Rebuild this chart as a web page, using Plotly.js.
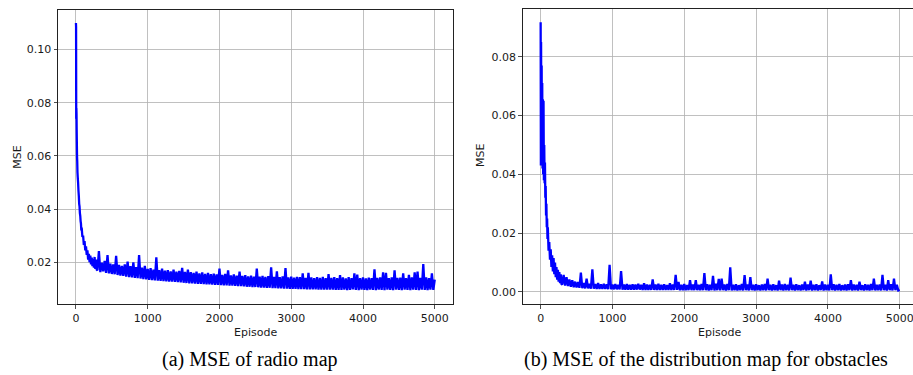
<!DOCTYPE html>
<html>
<head>
<meta charset="utf-8">
<script src="https://cdn.plot.ly/plotly-3.0.1.min.js"></script>
<style>html,body{margin:0;padding:0;background:#fff;}#chart{width:913px;height:375px;}</style>
</head>
<body>
<div id="chart"></div>
<script>
// ---------- (a) radio map : early episodes ----------
const radioEarlyEpisodes = [0,2,4,6,8,10,12,15,18,21,25,30,35,40,45,50,55,60,65,70,75,80,90,100,110,120,130,140,150,160,170,180,190,200,210,220,230,240,250,260,270,280,290];
const radioEarlyMSE = [0.1100,0.1085,0.0740,0.0780,0.0760,0.0700,0.0660,0.0600,0.0580,0.0540,0.0520,0.0500,0.0470,0.0450,0.0420,0.0410,0.0385,0.0375,0.0355,0.0345,0.0320,0.0330,0.0295,0.0300,0.0265,0.0280,0.0245,0.0260,0.0228,0.0245,0.0210,0.0232,0.0200,0.0225,0.0192,0.0218,0.0185,0.0212,0.0180,0.0220,0.0175,0.0210,0.0172];

// ---------- (a) radio map : episodes 300..5000, one reading every 20 episodes ----------
const mainStartEpisode = 300;
const mainStepEpisodes = 20;
const radioMainMSE = [
0.0170,0.0242,0.0163,0.0198,0.0166,0.0205,0.0160,0.0227,0.0158,0.0195,
0.0156,0.0192,0.0155,0.0224,0.0152,0.0190,0.0150,0.0186,0.0149,0.0192,
0.0146,0.0202,0.0144,0.0185,0.0143,0.0200,0.0141,0.0182,0.0140,0.0227,
0.0139,0.0180,0.0137,0.0186,0.0136,0.0175,0.0134,0.0178,0.0133,0.0172,
0.0132,0.0219,0.0131,0.0170,0.0130,0.0176,0.0129,0.0168,0.0128,0.0170,
0.0127,0.0166,0.0127,0.0172,0.0126,0.0165,0.0125,0.0168,0.0124,0.0179,
0.0123,0.0164,0.0122,0.0172,0.0121,0.0163,0.0121,0.0160,0.0120,0.0165,
0.0119,0.0158,0.0119,0.0162,0.0118,0.0156,0.0117,0.0160,0.0117,0.0155,
0.0116,0.0157,0.0115,0.0154,0.0115,0.0176,0.0114,0.0152,0.0113,0.0156,
0.0113,0.0170,0.0112,0.0151,0.0112,0.0154,0.0111,0.0150,0.0110,0.0165,
0.0110,0.0149,0.0109,0.0152,0.0108,0.0147,0.0108,0.0150,0.0107,0.0146,
0.0107,0.0176,0.0106,0.0146,0.0105,0.0149,0.0105,0.0145,0.0104,0.0148,
0.0104,0.0181,0.0103,0.0145,0.0103,0.0166,0.0102,0.0144,0.0102,0.0147,
0.0101,0.0178,0.0101,0.0143,0.0100,0.0146,0.0100,0.0142,0.0100,0.0145,
0.0099,0.0144,0.0099,0.0158,0.0099,0.0141,0.0098,0.0160,0.0098,0.0143,
0.0098,0.0140,0.0098,0.0144,0.0097,0.0141,0.0097,0.0145,0.0097,0.0140,
0.0097,0.0155,0.0097,0.0141,0.0097,0.0144,0.0096,0.0140,0.0096,0.0152,
0.0096,0.0143,0.0097,0.0139,0.0095,0.0144,0.0096,0.0140,0.0098,0.0158,
0.0096,0.0154,0.0095,0.0140,0.0097,0.0143,0.0096,0.0139,0.0095,0.0142,
0.0097,0.0140,0.0096,0.0173,0.0095,0.0141,0.0097,0.0143,0.0096,0.0162,
0.0095,0.0160,0.0097,0.0140,0.0096,0.0143,0.0095,0.0170,0.0097,0.0141,
0.0096,0.0142,0.0095,0.0158,0.0097,0.0140,0.0096,0.0153,0.0095,0.0143,
0.0097,0.0162,0.0096,0.0165,0.0095,0.0141,0.0097,0.0193,0.0096,0.0143,
0.0095,0.0140,0.0097,0.0158,0.0096,0.0135
];

// ---------- (b) obstacle map : early episodes ----------
const obstacleEarlyEpisodes = [0,3,6,10,14,18,22,26,30,35,40,45,50,55,60,65,70,75,80,85,90,95,100,110,120,130,140,150,160,170,180,190,200,210,220,230,240,250,260,270,280,290];
const obstacleEarlyMSE = [0.0917,0.0430,0.0850,0.0500,0.0770,0.0450,0.0710,0.0420,0.0655,0.0400,0.0650,0.0380,0.0500,0.0370,0.0440,0.0320,0.0360,0.0260,0.0300,0.0220,0.0250,0.0180,0.0220,0.0140,0.0170,0.0110,0.0145,0.0085,0.0125,0.0070,0.0115,0.0060,0.0100,0.0050,0.0085,0.0042,0.0075,0.0035,0.0068,0.0030,0.0060,0.0027];

// ---------- (b) obstacle map : episodes 300..5000 every 20 ----------
const obstacleMainMSE = [
0.0025,0.0058,0.0022,0.0050,0.0020,0.0042,0.0018,0.0040,0.0016,0.0035,
0.0015,0.0034,0.0014,0.0066,0.0013,0.0030,0.0012,0.0045,0.0012,0.0028,
0.0011,0.0077,0.0011,0.0027,0.0010,0.0030,0.0010,0.0026,0.0010,0.0028,
0.0010,0.0026,0.0009,0.0092,0.0009,0.0025,0.0009,0.0027,0.0009,0.0024,
0.0009,0.0071,0.0008,0.0025,0.0008,0.0027,0.0008,0.0024,0.0008,0.0026,
0.0008,0.0025,0.0008,0.0028,0.0008,0.0024,0.0007,0.0030,0.0007,0.0025,
0.0007,0.0024,0.0007,0.0043,0.0007,0.0025,0.0007,0.0028,0.0007,0.0024,
0.0007,0.0026,0.0007,0.0023,0.0007,0.0030,0.0007,0.0025,0.0007,0.0058,
0.0007,0.0034,0.0006,0.0024,0.0006,0.0027,0.0006,0.0023,0.0006,0.0040,
0.0006,0.0025,0.0006,0.0040,0.0006,0.0024,0.0006,0.0027,0.0006,0.0064,
0.0006,0.0026,0.0005,0.0024,0.0006,0.0055,0.0005,0.0028,0.0006,0.0044,
0.0005,0.0045,0.0006,0.0025,0.0005,0.0027,0.0006,0.0084,0.0005,0.0024,
0.0006,0.0026,0.0005,0.0023,0.0006,0.0027,0.0005,0.0057,0.0006,0.0025,
0.0005,0.0050,0.0006,0.0024,0.0005,0.0026,0.0006,0.0023,0.0005,0.0025,
0.0006,0.0027,0.0005,0.0045,0.0006,0.0024,0.0005,0.0026,0.0006,0.0023,
0.0005,0.0038,0.0006,0.0025,0.0005,0.0027,0.0006,0.0024,0.0005,0.0049,
0.0006,0.0024,0.0005,0.0026,0.0006,0.0023,0.0005,0.0025,0.0006,0.0035,
0.0005,0.0025,0.0006,0.0038,0.0005,0.0024,0.0006,0.0026,0.0005,0.0023,
0.0006,0.0036,0.0005,0.0025,0.0006,0.0024,0.0005,0.0060,0.0006,0.0026,
0.0005,0.0024,0.0006,0.0027,0.0005,0.0023,0.0006,0.0025,0.0005,0.0026,
0.0006,0.0040,0.0005,0.0025,0.0006,0.0024,0.0005,0.0035,0.0006,0.0023,
0.0005,0.0026,0.0006,0.0024,0.0005,0.0027,0.0006,0.0045,0.0005,0.0024,
0.0006,0.0025,0.0005,0.0058,0.0006,0.0024,0.0005,0.0040,0.0006,0.0026,
0.0005,0.0045,0.0006,0.0024,0.0005,0.0007
];

const xTickValues = [0,1000,2000,3000,4000,5000];
const radioYTicks = [0.02,0.04,0.06,0.08,0.10];
const obstacleYTicks = [0.00,0.02,0.04,0.06,0.08];
const xTitle = 'Episode';
const yTitle = 'MSE';
const captionA = '(a) MSE of radio map';
const captionB = '(b) MSE of the distribution map for obstacles';

function mainEpisodes(n){ const e=[]; for(let i=0;i<n;i++) e.push(mainStartEpisode+i*mainStepEpisodes); return e; }

const radioX = radioEarlyEpisodes.concat(mainEpisodes(radioMainMSE.length));
const radioY = radioEarlyMSE.concat(radioMainMSE);
const obsX = obstacleEarlyEpisodes.concat(mainEpisodes(obstacleMainMSE.length));
const obsY = obstacleEarlyMSE.concat(obstacleMainMSE);

const lineStyle = {color:'#0000ff', width:2.3, simplify:false};
const traces = [
  {type:'scatter', mode:'lines', x:radioX, y:radioY, xaxis:'x', yaxis:'y', line:lineStyle, hoverinfo:'skip'},
  {type:'scatter', mode:'lines', x:obsX, y:obsY, xaxis:'x2', yaxis:'y2', line:lineStyle, hoverinfo:'skip'}
];

const W=913, H=375;
const tickFont = {family:'DejaVu Sans', size:11, color:'#1a1a1a'};
function axisBase(){
  return {showline:true, mirror:true, linecolor:'#222', linewidth:1,
    ticks:'outside', ticklen:3.5, tickwidth:0.8, tickcolor:'#222',
    showgrid:true, gridcolor:'#b0b0b0', gridwidth:0.8, zeroline:false,
    tickfont:tickFont, fixedrange:true, ticklabeloverflow:'allow'};
}
const captionFont = {family:'Liberation Serif', size:20, color:'#000'};
const layout = {
  width:W, height:H, margin:{l:0,r:0,t:0,b:0},
  paper_bgcolor:'#fff', plot_bgcolor:'#fff', showlegend:false,
  xaxis:Object.assign(axisBase(), {domain:[58/W, 452.7/W], range:[-250,5250], tickvals:xTickValues, anchor:'y'}),
  yaxis:Object.assign(axisBase(), {domain:[1-304/H, 1-10/H], range:[0.0043,0.1149], tickvals:radioYTicks, tickformat:'.2f', anchor:'x'}),
  xaxis2:Object.assign(axisBase(), {domain:[522.7/W, 1], range:[-250,5185], tickvals:xTickValues, anchor:'y2'}),
  yaxis2:Object.assign(axisBase(), {domain:[1-304.3/H, 1-9.3/H], range:[-0.0042,0.0961], tickvals:obstacleYTicks, tickformat:'.2f', anchor:'x2'}),
  annotations:[
    {text:yTitle, xref:'paper', yref:'paper', x:16.7/W, y:1-157/H, xanchor:'center', yanchor:'middle', textangle:-90, showarrow:false, font:tickFont},
    {text:yTitle, xref:'paper', yref:'paper', x:481/W, y:1-156/H, xanchor:'center', yanchor:'middle', textangle:-90, showarrow:false, font:tickFont},
    {text:xTitle, xref:'paper', yref:'paper', x:255.3/W, y:1-332/H, xanchor:'center', yanchor:'middle', showarrow:false, font:tickFont},
    {text:xTitle, xref:'paper', yref:'paper', x:719.5/W, y:1-332/H, xanchor:'center', yanchor:'middle', showarrow:false, font:tickFont},
    {text:captionA, xref:'paper', yref:'paper', x:249.5/W, y:1-359/H, xanchor:'center', yanchor:'middle', showarrow:false, font:captionFont},
    {text:captionB, xref:'paper', yref:'paper', x:705.8/W, y:1-359/H, xanchor:'center', yanchor:'middle', showarrow:false, font:captionFont}
  ]
};
Plotly.newPlot('chart', traces, layout, {staticPlot:true, displayModeBar:false});
</script>
</body>
</html>
